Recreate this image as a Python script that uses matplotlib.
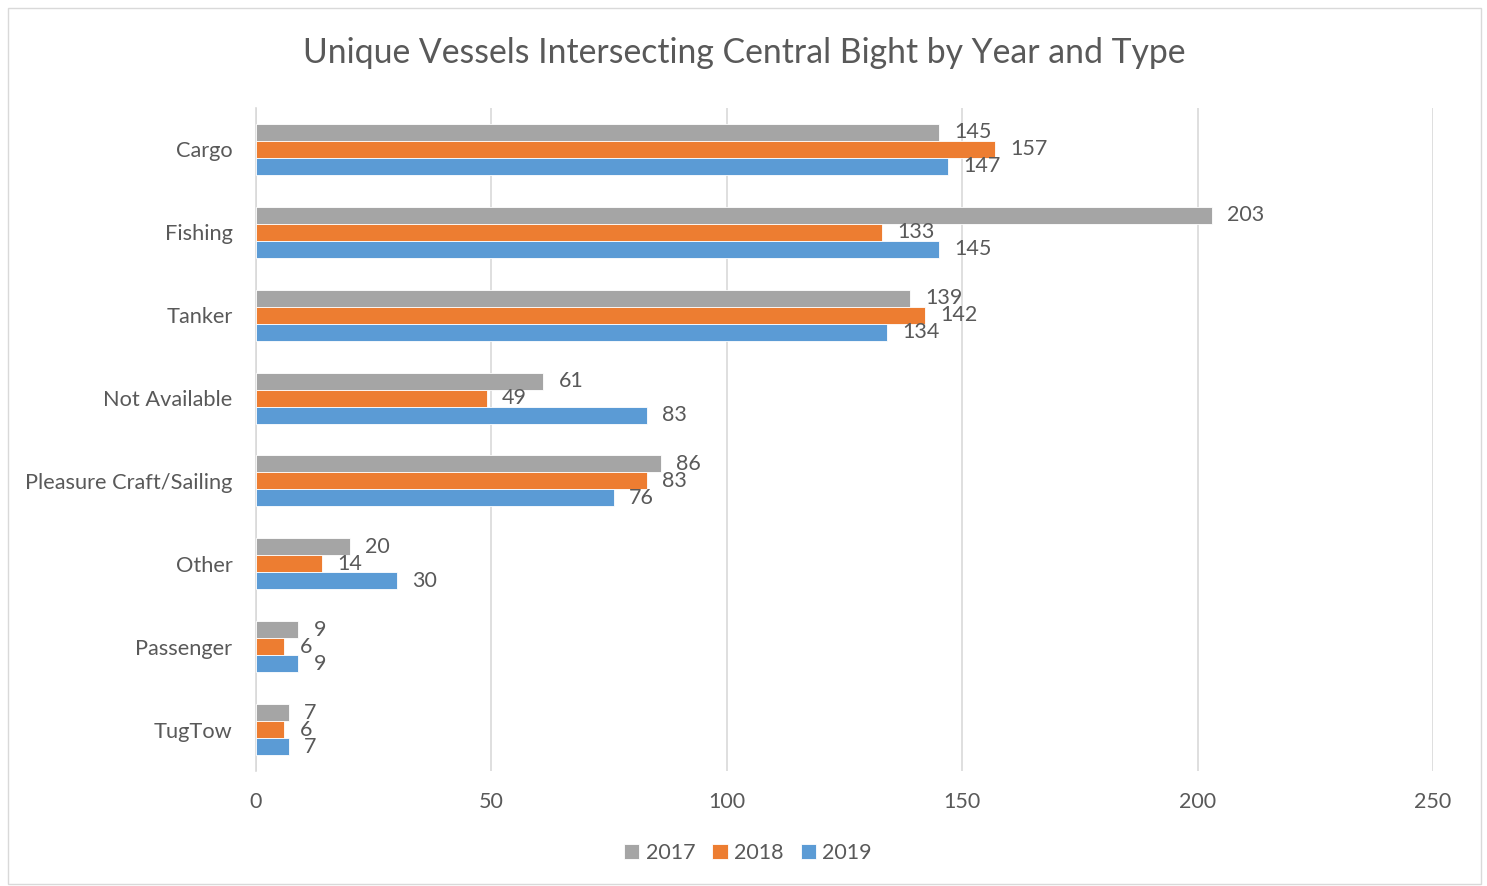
import matplotlib
matplotlib.use("Agg")
import matplotlib.pyplot as plt
import numpy as np
from matplotlib.patches import Rectangle

categories = ["Cargo", "Fishing", "Tanker", "Not Available", "Pleasure Craft/Sailing",
              "Other", "Passenger", "TugTow"]
years = ["2017", "2018", "2019"]
v2017 = [145, 203, 139, 61, 86, 20, 9, 7]
v2018 = [157, 133, 142, 49, 83, 14, 6, 6]
v2019 = [147, 145, 134, 83, 76, 30, 9, 7]
colors = ["#A5A5A5", "#ED7D31", "#5B9BD5"]
xticks = [0, 50, 100, 150, 200, 250]

plt.rcParams['font.family'] = ['Lato', 'DejaVu Sans']
txt = "#595959"

fig = plt.figure(figsize=(14.87, 8.86), dpi=100)
fig.patches.append(Rectangle((8/1487, 2/886), 1473/1487, 876/886, transform=fig.transFigure,
                             fill=False, edgecolor="#D9D9D9", linewidth=1))
ax = fig.add_axes([256/1487, 1-771/886, (1433-256)/1487, (771-108)/886])

n = len(categories)
y = np.arange(n)
h = 0.205
series = [v2017, v2018, v2019]
for i, (vals, c, yr) in enumerate(zip(series, colors, years)):
    pos = y + (i - 1) * h
    ax.barh(pos, vals, height=h, color=c, label=yr, edgecolor="white", linewidth=0.6, zorder=3)
    for p, v in zip(pos, vals):
        ax.annotate(str(v), (v, p), xytext=(11, 0), textcoords="offset points",
                    va="center", ha="left", fontsize=15.5, color=txt, zorder=4)

ax.set_ylim(n - 0.5, -0.5)
ax.set_xlim(0, 250)
ax.set_yticks(y)
ax.set_yticklabels(categories, fontsize=15.7, color=txt)
ax.set_xticks(xticks)
ax.set_xticklabels([str(t) for t in xticks], fontsize=15.5, color=txt)
ax.tick_params(axis='both', length=0)
ax.tick_params(axis='y', pad=17)
ax.tick_params(axis='x', pad=15)
ax.grid(axis='x', color="#D9D9D9", linewidth=1.2, zorder=0)
for s in ["top", "right", "bottom"]:
    ax.spines[s].set_visible(False)
ax.spines["left"].set_color("#D9D9D9")
ax.spines["left"].set_linewidth(1.2)

fig.text(744/1487, 1-53/886, "Unique Vessels Intersecting Central Bight by Year and Type",
         ha="center", va="center", fontsize=24.3, color=txt)

leg = fig.legend(loc="center", bbox_to_anchor=(748/1487, 1-853/886), ncol=3, frameon=False,
                 fontsize=15.5, handlelength=0.7, handleheight=0.7, handletextpad=0.3,
                 columnspacing=0.8, labelcolor=txt)

fig.savefig("out.png", dpi=100)
